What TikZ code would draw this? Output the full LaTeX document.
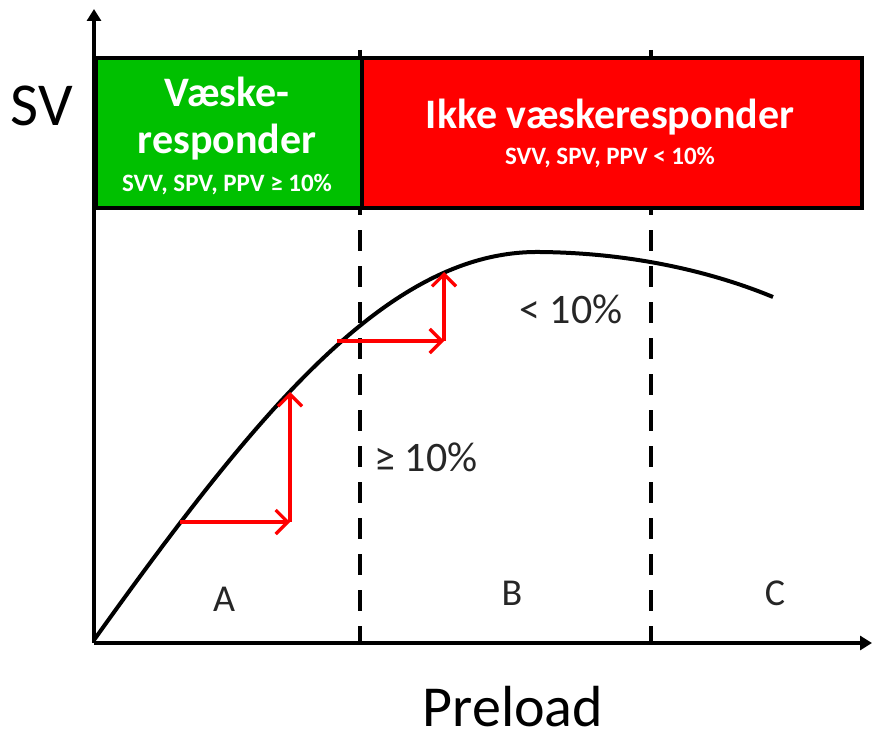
\documentclass[tikz,border=0pt]{standalone}
\usepackage{fontspec}
\setmainfont{Carlito}
\usetikzlibrary{arrows.meta}
\definecolor{gfill}{HTML}{00C000}
\definecolor{rfill}{HTML}{FF0000}
\definecolor{txt}{HTML}{262626}
\begin{document}
\begin{tikzpicture}[x=1pt,y=-1pt,
  axisline/.style={line width=4pt,-{Triangle[length=12pt,width=14pt]}},
  divider/.style={line width=3.6pt,dash pattern=on 21pt off 15pt},
  zone/.style={draw=black,line width=3.6pt,inner sep=0pt,anchor=north west},
  bigw/.style={text=white,font=\fontsize{42}{44}\selectfont\bfseries,inner sep=0pt},
  smallw/.style={text=white,font=\fontsize{25}{27}\selectfont\bfseries,inner sep=0pt},
  lbl/.style={text=txt,inner sep=0pt},
  redarrow/.style={rfill,line width=3.2pt,-{Straight Barb[length=12pt,width=24pt]}},
  curveline/.style={line width=4pt}]
\useasboundingbox (0,0) rectangle (873,733);
% dashed dividers
\coordinate (d1t) at (360,50);
\coordinate (d1b) at (360,643);
\coordinate (d2t) at (651,50);
\coordinate (d2b) at (651,643);
\draw[divider] (d1t) -- (d1b);
\draw[divider] (d2t) -- (d2b);
% zone boxes
\node[zone,fill=gfill,minimum width=266pt,minimum height=150pt] (green) at (94,56) {};
\node[zone,fill=rfill,minimum width=500pt,minimum height=150pt] (red) at (360,56) {};
% box texts
\node[bigw] (g1) at (227,92) {Væske-};
\node[bigw] (g2) at (227,142) {responder};
\node[smallw] (g3) at (227,185) {SVV, SPV, PPV ≥ 10\%};
\node[bigw] (r1) at (610,117) {Ikke væskeresponder};
\node[smallw] (r2) at (610,158) {SVV, SPV, PPV < 10\%};
% axes
\coordinate (o) at (94,643);
\coordinate (ytip) at (94,9);
\coordinate (xtip) at (872,643);
\draw[axisline] (o) -- (ytip);
\draw[axisline] (o) -- (xtip);
% curve
\coordinate (c0) at (94,640);
\coordinate (cp) at (540,252);
\coordinate (ce) at (773,297);
\draw[curveline] (c0) .. controls (260,408) and (390,250) .. (cp)
  .. controls (640,253) and (720,275) .. (ce);
% red arrows
\coordinate (a1s) at (180,522);
\coordinate (a1c) at (290,522);
\coordinate (a1e) at (290,392);
\coordinate (a2s) at (337,341);
\coordinate (a2c) at (444,341);
\coordinate (a2e) at (444,272);
\draw[redarrow] (a1s) -- (a1c);
\draw[redarrow] (a1c) -- (a1e);
\draw[redarrow] (a2s) -- (a2c);
\draw[redarrow] (a2c) -- (a2e);
% labels
\node[inner sep=0pt,font=\fontsize{61}{63}\selectfont] (sv) at (42,106) {SV};
\node[inner sep=0pt,anchor=base,font=\fontsize{58}{60}\selectfont] (pre) at (513,726) {Preload};
\node[lbl,font=\fontsize{42}{44}\selectfont] (ge) at (426,457) {≥ 10\%};
\node[lbl,font=\fontsize{42}{44}\selectfont] (lt) at (571,309) {< 10\%};
\node[lbl,font=\fontsize{38}{40}\selectfont] (A) at (224,599) {A};
\node[lbl,font=\fontsize{38}{40}\selectfont] (B) at (512,593) {B};
\node[lbl,font=\fontsize{38}{40}\selectfont] (C) at (775,593) {C};
\end{tikzpicture}
\end{document}
